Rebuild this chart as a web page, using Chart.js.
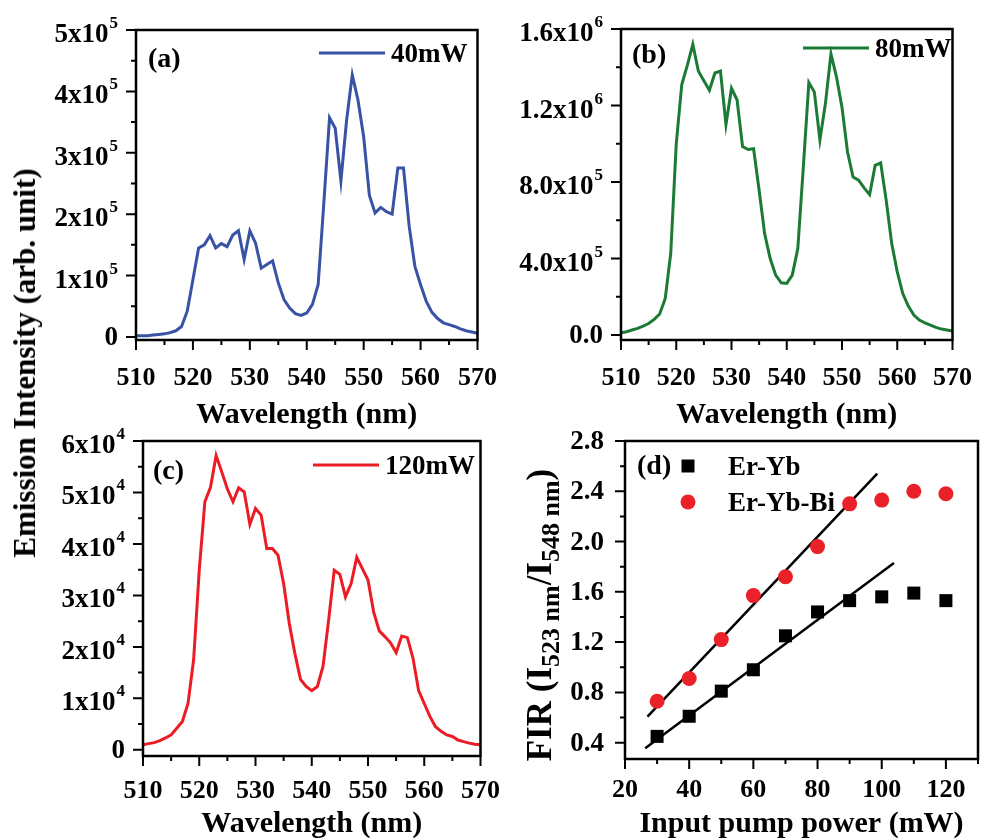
<!DOCTYPE html>
<html>
<head>
<meta charset="utf-8">
<script src="https://cdn.jsdelivr.net/npm/chart.js@4.4.1/dist/chart.umd.min.js"></script>
<style>
  body { margin: 0; background: #fff; width: 995px; height: 839px; position: relative; overflow: hidden; }
  canvas { position: absolute; }
  #ylabel {
    position: absolute; left: 25px; top: 363px;
    transform: translate(-50%, -50%) rotate(-90deg);
    font: bold 31px "Liberation Serif", "Times New Roman", serif;
    white-space: nowrap; color: #000;
  }
</style>
</head>
<body>
<canvas id="chartA" width="520" height="436" style="left:0;top:0"></canvas>
<canvas id="chartB" width="495" height="436" style="left:500px;top:0"></canvas>
<canvas id="chartC" width="520" height="422" style="left:0;top:420px"></canvas>
<canvas id="chartD" width="495" height="422" style="left:500px;top:420px"></canvas>
<div id="ylabel">Emission Intensity (arb. unit)</div>
<script>
// emission spectra, one value per nm
var wavelengths = [510, 511, 512, 513, 514, 515, 516, 517, 518, 519, 520, 521, 522, 523, 524, 525, 526, 527, 528, 529,
  530, 531, 532, 533, 534, 535, 536, 537, 538, 539, 540, 541, 542, 543, 544, 545, 546, 547, 548, 549,
  550, 551, 552, 553, 554, 555, 556, 557, 558, 559, 560, 561, 562, 563, 564, 565, 566, 567, 568, 569, 570];
var intensity40mW = [2000, 2000, 2000, 3000, 4000, 5000, 7000, 10000, 17000, 42000, 93000, 145000, 150000, 165000, 145000, 152000, 147000, 166000, 173000, 126000,
  173000, 153000, 112000, 118000, 124000, 88000, 61000, 47000, 38000, 35000, 39000, 53000, 85000, 218000, 357000, 340000, 254000, 353000, 427000, 386000,
  326000, 231000, 202000, 211000, 204000, 200000, 275000, 275000, 180000, 115000, 85000, 58000, 40000, 30000, 23000, 20000, 17000, 13000, 10000, 8000, 6000];
var intensity80mW = [12000, 17000, 26000, 35000, 47000, 60000, 82000, 110000, 190000, 426000, 1000000, 1310000, 1410000, 1520000, 1380000, 1330000, 1280000, 1370000, 1380000, 1100000,
  1290000, 1230000, 986000, 970000, 974000, 757000, 530000, 400000, 313000, 273000, 270000, 313000, 452000, 878000, 1320000, 1270000, 1020000, 1210000, 1470000, 1350000,
  1190000, 957000, 826000, 810000, 769000, 734000, 887000, 900000, 704000, 478000, 330000, 217000, 151000, 104000, 78000, 64000, 52000, 40000, 31000, 26000, 21000];
var intensity120mW = [1000, 1200, 1400, 1800, 2300, 2900, 4200, 5500, 9000, 17500, 34900, 48200, 51000, 57200, 54000, 50700, 48200, 50900, 50100, 43800,
  46900, 45600, 39100, 39100, 37800, 32300, 24600, 18700, 13700, 12300, 11500, 12300, 16200, 25200, 34900, 34100, 29700, 32300, 37400, 35200,
  33000, 26800, 23100, 22000, 20800, 18900, 22100, 21800, 17800, 11500, 9000, 6500, 4500, 3600, 2900, 2600, 1900, 1600, 1300, 1100, 1000];

// FIR vs pump power
var pumpPower = [30, 40, 50, 60, 70, 80, 90, 100, 110, 120];
var firErYb = [0.45, 0.61, 0.81, 0.98, 1.25, 1.44, 1.53, 1.56, 1.59, 1.53];
var firErYbBi = [0.73, 0.91, 1.22, 1.57, 1.72, 1.96, 2.30, 2.33, 2.40, 2.38];
var fitErYbX = [26.3, 103.8];
var fitErYbY = [0.355, 1.83];
var fitErYbBiX = [27, 98.6];
var fitErYbBiY = [0.607, 2.54];

// ticks
var xTicksNm = [510, 520, 530, 540, 550, 560, 570];
var xMinorNm = [515, 525, 535, 545, 555, 565];
var xTicksPower = [20, 40, 60, 80, 100, 120];
var xMinorPower = [30, 50, 70, 90, 110, 130];
var yTicksA = [0, 100000, 200000, 300000, 400000, 500000];
var yLabelsA = ['0', '1x10^5', '2x10^5', '3x10^5', '4x10^5', '5x10^5'];
var yMinorA = [50000, 150000, 250000, 350000, 450000];
var yTicksB = [0, 400000, 800000, 1200000, 1600000];
var yLabelsB = ['0.0', '4.0x10^5', '8.0x10^5', '1.2x10^6', '1.6x10^6'];
var yMinorB = [200000, 600000, 1000000, 1400000];
var yTicksC = [0, 10000, 20000, 30000, 40000, 50000, 60000];
var yLabelsC = ['0', '1x10^4', '2x10^4', '3x10^4', '4x10^4', '5x10^4', '6x10^4'];
var yMinorC = [5000, 15000, 25000, 35000, 45000, 55000];
var yTicksD = [0.4, 0.8, 1.2, 1.6, 2.0, 2.4, 2.8];
var yLabelsD = ['0.4', '0.8', '1.2', '1.6', '2.0', '2.4', '2.8'];
var yMinorD = [0.6, 1.0, 1.4, 1.8, 2.2, 2.6];

var serif = '"Liberation Serif", "Times New Roman", serif';
Chart.defaults.font.family = serif;
Chart.defaults.color = '#000';

function xy(xs, ys) {
  return xs.map(function (x, i) { return { x: x, y: ys[i] }; });
}

function drawTickLabel(ctx, text, xRight, y, size) {
  var parts = text.split('^');
  ctx.textAlign = 'right';
  if (parts.length == 1) {
    ctx.font = 'bold ' + size + 'px ' + serif;
    ctx.textBaseline = 'middle';
    ctx.fillText(text, xRight, y + 1);
    return;
  }
  ctx.textBaseline = 'alphabetic';
  ctx.font = 'bold ' + Math.round(size * 0.62) + 'px ' + serif;
  var w = ctx.measureText(parts[1]).width;
  ctx.fillText(parts[1], xRight, y - 2);
  ctx.font = 'bold ' + size + 'px ' + serif;
  ctx.fillText(parts[0], xRight - w - 1, y + 12);
}

// box, tick marks, y labels, panel tag and legend
var framePlugin = {
  id: 'frame',
  afterDatasetsDraw: function (chart, args, o) {
    var ctx = chart.ctx, a = chart.chartArea, xs = chart.scales.x, ys = chart.scales.y;
    ctx.save();
    ctx.strokeStyle = '#000';
    ctx.fillStyle = '#000';
    ctx.lineWidth = 2;
    ctx.beginPath();
    o.xMajor.forEach(function (v) { var p = xs.getPixelForValue(v); ctx.moveTo(p, a.bottom); ctx.lineTo(p, a.bottom + 10); });
    o.xMinor.forEach(function (v) { var p = xs.getPixelForValue(v); ctx.moveTo(p, a.bottom); ctx.lineTo(p, a.bottom + 5); });
    o.yMajor.forEach(function (v) { var p = ys.getPixelForValue(v); ctx.moveTo(a.left, p); ctx.lineTo(a.left - 10, p); });
    o.yMinor.forEach(function (v) { var p = ys.getPixelForValue(v); ctx.moveTo(a.left, p); ctx.lineTo(a.left - 5, p); });
    ctx.stroke();
    ctx.lineWidth = 2.5;
    ctx.strokeRect(a.left, a.top, a.right - a.left, a.bottom - a.top);

    o.yMajor.forEach(function (v, i) {
      drawTickLabel(ctx, o.yLabels[i], a.left - o.labelGap, ys.getPixelForValue(v), 27);
    });

    ctx.textAlign = 'left';
    ctx.textBaseline = 'middle';
    ctx.font = 'bold 28px ' + serif;
    ctx.fillText(o.tag, a.left + o.tagPos[0], a.top + o.tagPos[1]);

    ctx.font = 'bold 27px ' + serif;
    o.legend.forEach(function (it) {
      var ds = chart.data.datasets[it.ds];
      var x = a.left + it.x, y = a.top + it.y;
      if (it.kind == 'line') {
        ctx.strokeStyle = ds.borderColor;
        ctx.lineWidth = 3;
        ctx.beginPath(); ctx.moveTo(x, y); ctx.lineTo(x + 66, y); ctx.stroke();
        ctx.fillText(ds.label, x + 72, y + 2);
      } else {
        ctx.fillStyle = ds.backgroundColor;
        if (it.kind == 'rect') ctx.fillRect(x - 6.5, y - 6.5, 13, 13);
        else { ctx.beginPath(); ctx.arc(x, y, 7.5, 0, Math.PI * 2); ctx.fill(); }
        ctx.fillStyle = '#000';
        ctx.fillText(ds.label, x + 40, y + 2);
      }
    });

    if (o.rotTitle) {
      var t = o.rotTitle;
      ctx.translate(t.x, t.y);
      ctx.rotate(-Math.PI / 2);
      ctx.textAlign = 'left';
      ctx.textBaseline = 'alphabetic';
      var total = 0;
      t.parts.forEach(function (p) {
        ctx.font = 'bold ' + (p.sub ? t.sub : t.size) + 'px ' + serif;
        p.w = ctx.measureText(p.text).width;
        total += p.w;
      });
      var cx = -total / 2;
      t.parts.forEach(function (p) {
        ctx.font = 'bold ' + (p.sub ? t.sub : t.size) + 'px ' + serif;
        ctx.fillText(p.text, cx, p.sub ? 8 : 0);
        cx += p.w;
      });
    }
    ctx.restore();
  }
};

function xScale(min, max, ticks, title, height, tickPad, titlePad) {
  return {
    type: 'linear', min: min, max: max,
    afterBuildTicks: function (s) { s.ticks = ticks.map(function (v) { return { value: v }; }); },
    afterFit: function (s) { s.height = height; },
    grid: { display: false, drawTicks: false },
    border: { display: false },
    ticks: { font: { size: 26, weight: 'bold' }, color: '#000', padding: tickPad, maxRotation: 0, autoSkip: false },
    title: { display: true, text: title, color: '#000', font: { size: 30, weight: 'bold' }, padding: { top: 0, bottom: titlePad } }
  };
}

function spectrum(id, values, label, color, c) {
  return new Chart(document.getElementById(id), {
    type: 'line',
    data: {
      datasets: [{
        label: label, data: xy(wavelengths, values),
        borderColor: color, borderWidth: 3, pointRadius: 0, tension: 0
      }]
    },
    options: {
      responsive: false, animation: false, devicePixelRatio: 1,
      layout: { padding: c.pad },
      plugins: {
        legend: { display: false }, tooltip: { enabled: false },
        frame: {
          xMajor: xTicksNm, xMinor: xMinorNm, yMajor: c.yTicks, yMinor: c.yMinor, yLabels: c.yLabels,
          labelGap: 18, tag: c.tag, tagPos: c.tagPos,
          legend: [{ ds: 0, kind: 'line', x: c.legPos[0], y: c.legPos[1] }]
        }
      },
      scales: {
        x: xScale(510, 570, xTicksNm, 'Wavelength (nm)', c.xh, c.tickPad, c.titlePad),
        y: { type: 'linear', display: false, min: c.ymin, max: c.ymax }
      }
    },
    plugins: [framePlugin]
  });
}

spectrum('chartA', intensity40mW, '40mW', '#3953a4', {
  pad: { left: 136, top: 30, right: 31, bottom: 0 }, xh: 96, tickPad: 23, titlePad: 3,
  ymin: -5000, ymax: 500000, yTicks: yTicksA, yMinor: yMinorA, yLabels: yLabelsA,
  tag: '(a)', tagPos: [12, 30], legPos: [183, 23]
});
spectrum('chartB', intensity80mW, '80mW', '#1b7b34', {
  pad: { left: 121, top: 29, right: 21, bottom: 0 }, xh: 96, tickPad: 23, titlePad: 3,
  ymin: -26000, ymax: 1600000, yTicks: yTicksB, yMinor: yMinorB, yLabels: yLabelsB,
  tag: '(b)', tagPos: [11, 27], legPos: [182, 19]
});
spectrum('chartC', intensity120mW, '120mW', '#ec1c24', {
  pad: { left: 143, top: 21, right: 23, bottom: 0 }, xh: 86, tickPad: 20, titlePad: 0,
  ymin: -1200, ymax: 60000, yTicks: yTicksC, yMinor: yMinorC, yLabels: yLabelsC,
  tag: '(c)', tagPos: [10, 31], legPos: [170, 24]
});

new Chart(document.getElementById('chartD'), {
  type: 'scatter',
  data: {
    datasets: [
      { label: 'Er-Yb', data: xy(pumpPower, firErYb), pointStyle: 'rect', pointRadius: 9.2, backgroundColor: '#000', borderWidth: 0 },
      { label: 'Er-Yb-Bi', data: xy(pumpPower, firErYbBi), pointStyle: 'circle', pointRadius: 7.5, backgroundColor: '#ea2128', borderWidth: 0 },
      { type: 'line', label: 'Er-Yb fit', data: xy(fitErYbX, fitErYbY), borderColor: '#000', borderWidth: 2.5, pointRadius: 0 },
      { type: 'line', label: 'Er-Yb-Bi fit', data: xy(fitErYbBiX, fitErYbBiY), borderColor: '#000', borderWidth: 2.5, pointRadius: 0 }
    ]
  },
  options: {
    responsive: false, animation: false, devicePixelRatio: 1,
    layout: { padding: { left: 125, top: 21, right: 17, bottom: 0 } },
    plugins: {
      legend: { display: false }, tooltip: { enabled: false },
      frame: {
        xMajor: xTicksPower, xMinor: xMinorPower, yMajor: yTicksD, yMinor: yMinorD, yLabels: yLabelsD,
        labelGap: 21, tag: '(d)', tagPos: [12, 26],
        legend: [{ ds: 0, kind: 'rect', x: 63, y: 25 }, { ds: 1, kind: 'circle', x: 63, y: 61 }],
        rotTitle: {
          x: 51, y: 195, size: 35, sub: 26,
          parts: [{ text: 'FIR (I' }, { text: '523 nm', sub: true }, { text: '/I' }, { text: '548 nm', sub: true }, { text: ')' }]
        }
      }
    },
    scales: {
      x: xScale(20, 130, xTicksPower, 'Input pump power (mW)', 83, 16, 0),
      y: { type: 'linear', display: false, min: 0.27, max: 2.8 }
    }
  },
  plugins: [framePlugin]
});
</script>
</body>
</html>
